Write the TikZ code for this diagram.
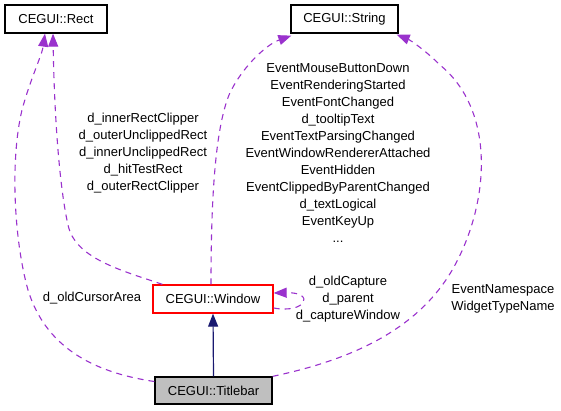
\documentclass[tikz,border=0pt]{standalone}
\usepackage{fontspec}
\setmainfont{Liberation Sans}
\usetikzlibrary{arrows.meta}
\definecolor{dep}{HTML}{9A32CD}
\definecolor{inh}{HTML}{191970}
\definecolor{winred}{HTML}{FF0000}
\definecolor{tbgray}{HTML}{BFBFBF}
\begin{document}
\begin{tikzpicture}[x=1pt,y=-1pt,
  every node/.style={font=\fontsize{13}{17}\selectfont, inner sep=0pt},
  cls/.style={draw, line width=1.3pt, minimum height=28, align=center},
  lbl/.style={align=center},
  depline/.style={draw=dep, line width=1.1pt, dash pattern=on 6pt off 5pt, -{Triangle[length=13pt,width=10pt]}},
  inhline/.style={draw=inh, line width=1.2pt, -{Triangle[length=13pt,width=10pt]}}]
\useasboundingbox (0,0) rectangle (561,411);
\node[cls, draw=black, minimum width=102] (rect) at (56,19) {CEGUI::Rect};
\node[cls, draw=black, minimum width=107] (str) at (344.5,19) {CEGUI::String};
\node[cls, draw=winred, minimum width=120] (win) at (213,299) {CEGUI::Window};
\node[cls, draw=black, fill=tbgray, minimum width=117, minimum height=27] (tb) at (213.5,390.5) {CEGUI::Titlebar};
% inheritance
\draw[inhline] (tb.north) -- (win.south);
% Window -> Rect
\draw[depline] ([xshift=10]win.north west) .. controls (120,270) and (75,258) .. (68,225) .. controls (58,180) and (54,100) .. ([xshift=-3]rect.south);
% Titlebar -> Rect
\draw[depline] ([yshift=9]tb.west) .. controls (90,372) and (45,345) .. (28,290) .. controls (14,240) and (10,160) .. (22,110) .. controls (30,80) and (42,55) .. ([xshift=-11]rect.south);
% Window -> String
\draw[depline] ([xshift=-2]win.north) .. controls (211,200) and (215,130) .. (229,95) .. controls (240,70) and (265,45) .. ([xshift=1,yshift=-2]str.south west);
% Titlebar -> String
\draw[depline] (tb.north east) .. controls (350,360) and (420,330) .. (455,265) .. controls (490,200) and (495,110) .. (440,65) .. controls (425,50) and (410,40) .. ([xshift=-2,yshift=-1]str.south east);
% self loop
\draw[depline] ([yshift=-9]win.east) .. controls (306,314) and (316,292) .. ([yshift=6]win.east);
% labels
\node[lbl] (l1) at (143,153) {d\_innerRectClipper\\d\_outerUnclippedRect\\d\_innerUnclippedRect\\d\_hitTestRect\\d\_outerRectClipper};
\node[lbl] (l2) at (92,298) {d\_oldCursorArea};
\node[lbl] (l3) at (338,153) {EventMouseButtonDown\\EventRenderingStarted\\EventFontChanged\\d\_tooltipText\\EventTextParsingChanged\\EventWindowRendererAttached\\EventHidden\\EventClippedByParentChanged\\d\_textLogical\\EventKeyUp\\...};
\node[lbl] (l4) at (503,299) {EventNamespace\\WidgetTypeName};
\node[lbl] (l5) at (348,299.5) {d\_oldCapture\\d\_parent\\d\_captureWindow};
\end{tikzpicture}
\end{document}
